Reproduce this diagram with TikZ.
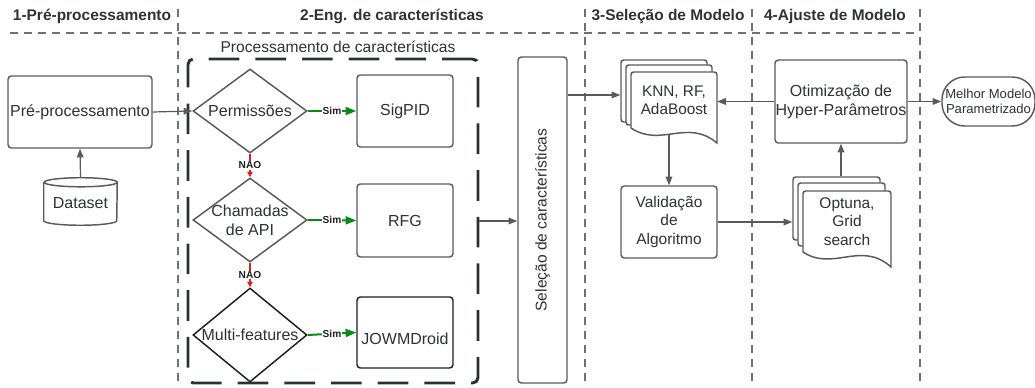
\documentclass[tikz,border=0pt]{standalone}
\usepackage{fontspec}
\setmainfont{Liberation Sans}
\usetikzlibrary{shapes.geometric,arrows.meta,backgrounds}
\definecolor{txt}{HTML}{2E3138}
\definecolor{ln}{HTML}{5A5A5A}
\definecolor{sepc}{HTML}{707070}
\definecolor{grn}{HTML}{0A8A14}
\definecolor{rd}{HTML}{E01E1E}
\definecolor{dk}{HTML}{2B2F36}
\definecolor{blk}{HTML}{1E1E1E}
\begin{document}
\begin{tikzpicture}[x=0.75pt,y=-0.75pt,
  font=\fontsize{12}{14.25}\selectfont, text=txt,
  box/.style={draw=ln, line width=1.1pt, rounded corners=2.5pt, fill=white, inner sep=0pt, align=center},
  dbox/.style={box, draw=blk},
  dia/.style={diamond, draw=ln, line width=1.1pt, fill=white, inner sep=0pt, minimum width=85.5pt, minimum height=63pt},
  sheet/.style={draw=ln, line width=1.1pt, fill=white, rounded corners=2pt, inner sep=0pt},
  docst/.style={draw=ln, line width=1.1pt, fill=white},
  hd/.style={font=\bfseries\fontsize{11.6}{13}\selectfont, anchor=base},
  sepl/.style={draw=sepc, line width=0.9pt, dash pattern=on 6pt off 4.5pt},
  arr/.style={draw=ln, line width=0.9pt, -{Triangle[length=6.5pt,width=5pt]}},
  simarr/.style={draw=grn, line width=1.5pt, -{Triangle[length=8pt,width=6pt]}},
  naoarr/.style={draw=rd, line width=1.4pt, -{Triangle[length=4pt,width=4pt]}},
  lbl/.style={font=\bfseries\fontsize{7.6}{8}\selectfont, text=blk, fill=white, inner sep=0.6pt},
  procbox/.style={draw=dk, line width=2.2pt, dash pattern=on 23pt off 12pt, rounded corners=4pt, inner sep=0pt}
]
\useasboundingbox (0,0) rectangle (1035,388);

% headers
\node[hd] (h1) at (92,21) {1-Pré-processamento};
\node[hd] (h2) at (392,21) {2-Eng. de características};
\node[hd] (h3) at (668,21) {3-Seleção de Modelo};
\node[hd] (h4) at (835,21) {4-Ajuste de Modelo};

% separators
\draw[sepl] (10,33) -- (920,33);
\draw[sepl] (178,9) -- (178,387);
\draw[sepl] (585,9) -- (585,387);
\draw[sepl] (752,9) -- (752,387);
\draw[sepl] (920,9) -- (920,387);

% stage 1
\node[box, minimum width=108pt, minimum height=54pt] (pre) at (80,112) {Pré-processamento};
\node[inner sep=0pt, minimum width=54.75pt, minimum height=35.25pt] (data) at (80.5,201.5) {};
\draw[docst] ([yshift=-3.4pt]data.north west) -- ([yshift=3.4pt]data.south west)
  arc[start angle=180, end angle=360, x radius=27.375pt, y radius=3.4pt]
  -- ([yshift=-3.4pt]data.north east)
  arc[start angle=0, end angle=360, x radius=27.375pt, y radius=3.4pt];
\node at ([yshift=-1.5pt]data.center) {Dataset};

% stage 2
\node[procbox, minimum width=217.5pt, minimum height=243pt] (proc) at (333,221) {};
\node[font=\fontsize{11.7}{13}\selectfont] (proclbl) at (338,47) {Processamento de características};

\node[dia, label={center:Permissões}] (perm) at (250,111) {};
\node[dia, label={[align=center]center:Chamadas\\de API}] (chm) at (250,220) {};
\node[dia, draw=blk, minimum height=70.5pt, label={center:Multi-features}] (mf) at (250,335) {};

\node[box, minimum width=72pt, minimum height=54pt] (sig) at (405,111) {SigPID};
\node[box, minimum width=72pt, minimum height=54.75pt] (rfg) at (405,220.5) {RFG};
\node[dbox, minimum width=72pt, minimum height=53.25pt, label={[yshift=-5pt]center:JOWMDroid}] (jow) at (405,332.5) {};

\draw[simarr] (perm.east) -- node[lbl] {Sim} (sig.west);
\draw[simarr] (chm.east) -- node[lbl] {Sim} (rfg.west);
\draw[simarr] (mf.east) -- node[lbl] {Sim} (jow.west);
\draw[naoarr] (perm.south) -- node[lbl] {NAO} (chm.north);
\draw[naoarr] (chm.south) -- node[lbl] {NAO} (mf.north);

\node[box, minimum width=36.75pt, minimum height=244.5pt] (sel) at (542.5,220) {};
\node[rotate=90, font=\fontsize{11.7}{13}\selectfont] (seltxt) at (sel.center) {Seleção de características};

% stage 3
\node[sheet, minimum width=64.5pt, minimum height=46.5pt] (kb) at (664,91) {};
\node[sheet, minimum width=64.5pt, minimum height=45pt] (km) at (669,95) {};
\draw[docst] (631,128) [rounded corners=2pt] -- (631,72) -- (717,72) [sharp corners] -- (717,143)
  .. controls (687,118) and (661,148) .. (631,128) -- cycle;
\node[inner sep=0pt, minimum width=64.5pt, minimum height=42pt, align=center, font=\fontsize{11.5}{13.5}\selectfont] (knn) at (674,100) {KNN, RF,\\AdaBoost};

\node[box, minimum width=72pt, minimum height=54pt, font=\fontsize{11.6}{13.9}\selectfont] (val) at (669,222) {Validação\\de\\Algoritmo};

% stage 4
\node[box, minimum width=99pt, minimum height=62.25pt] (oti) at (841,101.5) {Otimização de\\Hyper-Parâmetros};
\node[sheet, minimum width=65.25pt, minimum height=47.25pt] (gb) at (836.5,208.5) {};
\node[sheet, minimum width=65.25pt, minimum height=47.25pt] (gm) at (841.5,214.5) {};
\draw[docst] (803,252) [rounded corners=2pt] -- (803,191) -- (891,191) [sharp corners] -- (891,267)
  .. controls (861,240) and (833,272) .. (803,252) -- cycle;
\node[inner sep=0pt, minimum width=66pt, minimum height=45.75pt, align=center, font=\fontsize{11.6}{13.9}\selectfont] (grid) at (847,221.5) {Optuna,\\Grid\\search};

\node[draw=ln, line width=1.1pt, rounded corners=17pt, minimum width=69.75pt, minimum height=36.75pt, fill=white, inner sep=0pt, align=center, font=\fontsize{9.8}{11.25}\selectfont] (best) at (988.5,101.5) {Melhor Modelo\\Parametrizado};

% connectors
\draw[arr] (data.north) -- (pre.south);
\draw[arr] (pre.east) -- (perm.west);
\draw[arr] (proc.east) -- (sel.west |- proc.east);
\draw[arr] (sel.east |- km.west) -- (kb.west |- km.west);
\begin{scope}[on background layer]
\draw[arr] (val.north |- knn.south) -- (val.north);
\end{scope}
\draw[arr] (val.east) -- (gb.west |- val.east);
\draw[arr] (oti.south |- gb.north) -- (oti.south);
\draw[arr] (oti.west) -- (knn.east |- oti.west);
\draw[arr] (oti.east) -- (best.west);
\end{tikzpicture}
\end{document}
